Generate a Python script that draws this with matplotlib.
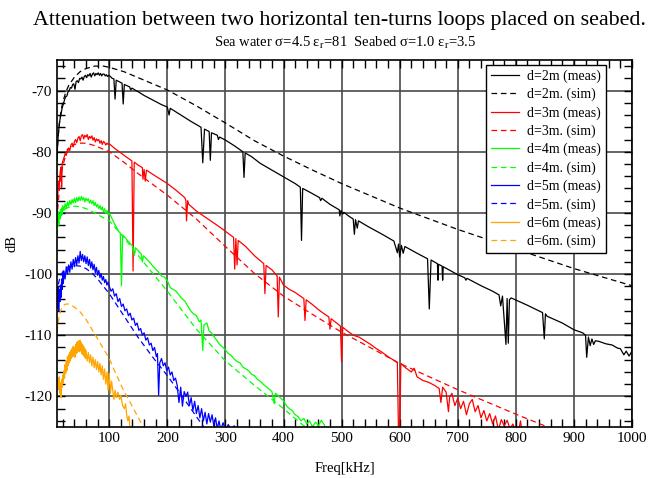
import numpy as np
import matplotlib
matplotlib.use('Agg')
import matplotlib.pyplot as plt
from matplotlib.ticker import MultipleLocator

# measured (meas) and simulated (sim) attenuation, values read off the chart
# d = 2m
f_2m_meas = [10, 11, 12, 13, 14, 15, 17, 19, 21, 23, 25, 27, 29, 31, 33, 35, 37, 39, 41, 43, 45, 47, 49,
             51, 53, 55, 57, 59, 61, 63, 65, 67, 69, 71, 73, 75, 77, 79, 81, 83, 85, 87, 89, 91, 93, 95, 97, 99,
             102, 105, 108, 110, 112, 118, 122, 124, 126, 135, 137, 139, 146, 150, 160, 170, 180, 190, 200, 203,
             205, 220, 240, 258, 261, 264, 272, 274, 276, 286, 288, 290, 300, 315, 330, 332, 334, 345, 360, 380,
             400, 420, 429, 431, 433, 445, 462, 464, 466, 480, 496, 497, 499, 502, 504, 512, 520, 522, 524, 527,
             529, 545, 570, 590, 596, 598, 600, 603, 606, 609, 630, 648, 651, 654, 665, 666, 667, 673, 674, 675,
             700, 712, 714, 716, 740, 760, 771, 774, 777, 783, 785, 787, 789, 792, 820, 846, 849, 851, 854, 880,
             900, 915, 920, 922, 925, 928, 931, 934, 937, 943, 955, 966, 975, 980, 986, 990, 995, 1000]
db_2m_meas = [-81.5, -79.0, -77.5, -76.5, -75.5, -74.8, -73.8, -72.8, -72.2, -71.5, -71.0, -70.9, -70.2, -70.0,
              -69.5, -69.6, -69.0, -68.9, -69.8, -68.5, -68.4, -68.7, -68.0, -68.1, -67.8, -68.3, -67.7, -67.5,
              -67.9, -67.4, -67.6, -67.2, -67.8, -67.3, -67.1, -67.6, -67.2, -67.4, -67.1, -67.5, -67.2, -67.6,
              -67.3, -67.3, -67.6, -67.4, -67.7, -67.5, -67.7, -68.0, -68.1, -71.4, -68.3, -68.6, -68.8, -72.2,
              -69.0, -69.4, -69.9, -69.6, -70.0, -70.2, -70.8, -71.3, -71.8, -72.3, -72.7, -74.0, -72.9, -73.8,
              -75.0, -76.0, -81.8, -76.3, -76.7, -81.4, -76.9, -77.3, -78.0, -77.6, -78.1, -79.0, -80.0, -84.2,
              -80.2, -80.8, -81.9, -83.0, -84.1, -85.2, -85.8, -94.5, -86.0, -86.6, -87.5, -88.0, -87.6, -88.6,
              -89.5, -90.5, -89.6, -90.2, -89.9, -90.5, -91.0, -93.5, -91.1, -92.5, -91.3, -92.2, -93.5, -94.6,
              -96.5, -95.1, -97.2, -95.3, -96.6, -95.5, -96.6, -97.5, -105.7, -97.7, -98.3, -101.0, -98.4, -98.7,
              -101.0, -98.8, -100.1, -100.6, -101.0, -100.7, -101.9, -102.8, -103.4, -105.2, -103.6, -111.5,
              -104.0, -111.3, -104.2, -103.9, -105.1, -106.3, -110.6, -106.5, -106.9, -108.0, -109.1, -109.6,
              -110.0, -113.6, -110.3, -111.7, -110.6, -111.5, -110.9, -111.0, -111.4, -111.6, -112.1, -112.2,
              -113.2, -112.6, -113.4, -112.6]
f_2m_sim = [10, 12, 14, 16, 18, 20, 25, 30, 40, 50, 60, 75, 90, 100, 125, 150, 200, 250, 300, 350, 400, 450,
            500, 600, 700, 800, 900, 1000]
db_2m_sim = [-80.5, -77.5, -75.5, -74.0, -72.8, -71.9, -70.3, -69.2, -67.8, -66.9, -66.4, -66.0, -66.0, -66.2,
             -66.9, -67.9, -69.9, -72.5, -75.3, -78.2, -80.7, -83.0, -85.2, -89.2, -92.7, -95.9, -99.1, -101.9]

# d = 3m
f_3m_meas = [10, 11, 12, 13, 14, 15, 16, 17, 18, 19, 20, 22, 24, 26, 28, 30, 32, 34, 36, 38, 40, 42, 44, 46,
             48, 50, 52, 54, 56, 58, 60, 62, 64, 66, 68, 70, 72, 74, 76, 78, 80, 82, 84, 86, 88, 90, 92, 94, 96,
             98, 100, 105, 110, 120, 130, 139, 141, 143, 150, 157, 158, 160, 162, 164, 175, 190, 200, 215, 230,
             232, 233, 235, 237, 250, 270, 290, 300, 314, 316, 318, 320, 322, 335, 350, 360, 366, 368, 370, 380,
             389, 391, 393, 400, 410, 420, 435, 437, 439, 450, 460, 470, 478, 480, 482, 490, 498, 500, 502, 510,
             520, 530, 540, 550, 560, 570, 580, 590, 596, 598, 600, 602, 610, 620, 625, 630, 640, 650, 660, 668,
             671, 674, 680, 684, 686, 690, 695, 700, 705, 710, 715, 720, 725, 730, 735, 740, 745, 750, 755, 760,
             765, 770, 775, 780, 785, 790, 795, 800, 805, 808, 811]
db_3m_meas = [-89.7, -87.5, -86.0, -84.8, -85.5, -83.8, -83.0, -82.5, -85.8, -82.0, -81.5, -81.0, -80.3, -80.6,
              -79.6, -79.4, -79.8, -78.9, -78.6, -79.2, -78.4, -78.0, -78.5, -77.8, -77.5, -78.2, -77.4, -77.2,
              -77.9, -77.3, -77.6, -77.2, -78.0, -77.5, -77.8, -77.4, -78.1, -77.7, -78.4, -77.9, -78.2, -78.0,
              -78.6, -78.2, -78.8, -78.3, -78.5, -78.9, -78.6, -78.8, -78.7, -79.1, -79.5, -80.2, -80.9, -81.5,
              -99.5, -81.7, -82.2, -82.6, -84.5, -82.9, -84.8, -83.0, -83.7, -84.6, -85.2, -86.3, -87.5, -88.0,
              -91.3, -88.0, -88.6, -89.7, -91.0, -92.3, -93.0, -94.0, -99.2, -94.2, -98.5, -94.5, -95.5, -97.0,
              -97.8, -98.3, -103.2, -98.6, -99.3, -100.3, -107.0, -100.5, -101.8, -102.5, -103.0, -104.0, -107.6,
              -104.2, -105.0, -105.8, -106.5, -107.0, -109.0, -107.3, -107.9, -108.5, -114.3, -108.7, -109.3,
              -110.0, -110.3, -110.9, -111.5, -112.2, -112.8, -113.5, -114.1, -114.5, -126.0, -126.0, -114.6,
              -115.3, -116.0, -115.4, -116.8, -117.4, -117.7, -118.2, -118.7, -121.0, -118.5, -119.3, -122.5,
              -120.1, -119.5, -121.5, -120.3, -122.0, -120.8, -123.0, -121.2, -120.5, -122.5, -121.5, -123.5,
              -122.3, -124.0, -122.8, -124.5, -123.2, -125.5, -123.8, -124.8, -123.9, -125.3, -124.5, -126.0,
              -125.5, -124.0, -126.0]
f_3m_sim = [10, 12, 14, 16, 18, 20, 25, 30, 40, 50, 60, 75, 90, 100, 125, 150, 200, 250, 300, 350, 400, 450,
            500, 600, 700, 800, 860]
db_3m_sim = [-91.0, -88.5, -86.3, -84.6, -83.3, -82.3, -80.6, -79.6, -78.8, -78.6, -78.6, -79.0, -79.6, -80.0,
             -81.7, -83.6, -87.1, -91.0, -95.5, -99.9, -103.6, -106.6, -109.5, -114.6, -118.9, -122.9, -125.2]

# d = 4m
f_4m_meas = [10, 11, 12, 13, 14, 15, 16, 17, 18, 19, 20, 22, 24, 26, 28, 30, 32, 34, 36, 38, 40, 42, 44, 46,
             48, 50, 52, 54, 56, 58, 60, 62, 64, 66, 68, 70, 72, 74, 76, 78, 80, 82, 84, 86, 88, 90, 92, 94, 96,
             98, 100, 104, 108, 112, 116, 119, 121, 123, 127, 132, 136, 140, 143, 145, 150, 155, 157, 159, 165,
             170, 175, 180, 185, 190, 195, 200, 205, 210, 215, 220, 225, 230, 235, 240, 245, 250, 255, 258, 261,
             263, 268, 272, 276, 280, 285, 290, 295, 300, 305, 310, 315, 320, 325, 330, 335, 340, 345, 350, 355,
             360, 365, 370, 375, 380, 384, 386, 390, 395, 400, 405, 410, 415, 420, 425, 430, 435, 440, 445, 450,
             455, 460, 465, 470, 474]
db_4m_meas = [-89.0, -91.5, -89.8, -92.0, -90.2, -91.0, -89.5, -90.5, -89.2, -90.3, -88.8, -89.6, -88.5, -89.2,
              -88.2, -88.9, -88.0, -88.6, -87.8, -88.4, -87.6, -88.3, -87.5, -88.1, -87.4, -88.0, -87.3, -87.9,
              -87.5, -88.2, -87.6, -88.0, -87.7, -88.4, -87.9, -88.5, -88.0, -88.8, -88.3, -89.0, -88.6, -89.3,
              -88.8, -89.5, -89.0, -89.8, -89.3, -90.1, -89.6, -90.3, -90.0, -90.8, -91.6, -92.3, -93.0, -93.3,
              -101.9, -93.6, -94.0, -94.6, -95.0, -95.4, -97.0, -95.7, -96.2, -96.7, -98.0, -97.0, -97.6, -98.1,
              -98.7, -99.2, -99.7, -100.3, -100.5, -101.1, -102.2, -102.5, -102.8, -103.4, -104.0, -104.4,
              -105.2, -106.0, -106.5, -106.8, -107.8, -107.5, -112.5, -108.3, -108.0, -109.3, -109.6, -110.2,
              -110.8, -111.5, -111.9, -112.4, -113.0, -113.3, -113.9, -114.3, -114.5, -115.2, -115.5, -115.8,
              -116.4, -116.6, -117.2, -117.5, -118.0, -118.4, -118.8, -119.2, -121.2, -119.5, -119.8, -120.3,
              -120.7, -121.5, -122.0, -122.3, -123.0, -123.3, -124.0, -123.6, -124.5, -124.0, -125.0, -124.2,
              -124.8, -123.9, -124.6, -125.5]
f_4m_sim = [10, 12, 14, 16, 20, 25, 30, 40, 50, 60, 75, 90, 100, 125, 150, 175, 200, 250, 300, 350, 400, 440]
db_4m_sim = [-93.8, -92.3, -91.2, -90.5, -89.8, -89.3, -89.1, -88.9, -89.0, -89.3, -90.0, -90.8, -91.3, -94.0,
             -97.0, -99.9, -102.8, -109.0, -114.2, -118.2, -122.0, -125.2]

# d = 5m
f_5m_meas = [10, 11, 12, 13, 14, 15, 16, 17, 18, 19, 20, 21, 22, 24, 26, 28, 30, 32, 34, 36, 38, 40, 42, 44,
             46, 48, 50, 52, 54, 56, 58, 60, 62, 64, 66, 68, 70, 72, 74, 76, 78, 80, 82, 84, 86, 88, 90, 92, 94,
             96, 98, 100, 103, 106, 109, 112, 115, 118, 121, 124, 127, 130, 133, 136, 139, 142, 145, 148, 151,
             154, 157, 160, 163, 166, 169, 172, 175, 178, 181, 183, 185, 187, 190, 193, 196, 199, 202, 205, 208,
             211, 214, 217, 220, 223, 226, 229, 232, 235, 238, 241, 244, 247, 250, 253, 256, 259, 262, 265, 268,
             271, 274, 277, 280, 283, 286, 289, 292, 296, 300, 305, 310, 315, 320]
db_5m_meas = [-103.5, -105.5, -102.0, -106.0, -102.5, -104.5, -101.8, -103.8, -100.8, -102.5, -99.8, -101.5,
              -99.5, -100.8, -98.8, -100.0, -98.5, -99.7, -98.0, -99.2, -97.6, -98.8, -97.3, -98.5, -97.0, -98.2,
              -96.3, -97.8, -96.8, -98.0, -97.0, -98.3, -97.2, -98.6, -97.6, -99.0, -98.0, -99.3, -98.4, -99.8,
              -98.9, -100.2, -99.4, -100.6, -99.9, -101.0, -100.4, -101.4, -100.9, -101.8, -101.3, -102.0, -102.8,
              -102.4, -103.6, -103.2, -104.5, -104.0, -105.3, -104.9, -106.0, -105.7, -106.8, -106.4, -107.5,
              -107.2, -108.4, -108.0, -109.2, -108.9, -110.0, -109.6, -110.8, -110.4, -111.6, -111.3, -112.5,
              -112.0, -113.5, -113.0, -119.8, -114.5, -113.8, -115.0, -114.5, -115.8, -115.2, -116.5, -116.0,
              -117.4, -117.0, -118.2, -121.0, -118.5, -121.6, -119.2, -120.0, -119.3, -121.5, -120.2, -122.3,
              -120.8, -122.8, -121.5, -123.5, -122.0, -124.0, -122.6, -124.5, -122.8, -124.2, -123.0, -124.8,
              -123.5, -125.3, -124.0, -125.5, -124.3, -125.5, -124.6, -125.5, -124.8, -125.5]
f_5m_sim = [10, 12, 15, 20, 25, 30, 40, 50, 60, 70, 80, 90, 100, 125, 150, 175, 200, 225, 250, 265]
db_5m_sim = [-103.2, -101.8, -100.6, -99.6, -99.1, -98.8, -98.6, -98.7, -99.1, -99.8, -100.8, -102.0, -103.2,
             -106.8, -110.4, -113.6, -116.6, -119.9, -123.3, -125.3]

# d = 6m
f_6m_meas = [10, 11, 12, 13, 14, 15, 16, 17, 18, 19, 20, 21, 22, 23, 24, 25, 26, 27, 28, 29, 30, 31, 32, 33,
             34, 35, 36, 37, 38, 39, 40, 41, 42, 43, 44, 45, 46, 47, 48, 49, 50, 51, 52, 53, 54, 55, 56, 57, 58,
             59, 60, 62, 64, 66, 68, 70, 72, 74, 76, 78, 80, 82, 84, 86, 88, 90, 92, 94, 96, 98, 100, 102, 104,
             106, 108, 110, 112, 115, 118, 120, 123, 126, 128, 130, 132, 134, 136]
db_6m_meas = [-117.5, -119.0, -117.0, -118.8, -116.8, -119.5, -117.8, -120.2, -117.2, -118.5, -116.5, -117.8,
              -115.8, -117.0, -114.8, -116.2, -114.2, -115.8, -113.5, -115.0, -113.2, -114.5, -112.8, -114.2,
              -112.5, -113.8, -112.2, -113.5, -111.8, -113.4, -112.0, -113.6, -111.5, -113.0, -111.2, -112.8,
              -111.0, -112.6, -110.9, -112.7, -110.8, -112.5, -111.2, -113.0, -111.5, -113.2, -111.8, -113.5,
              -112.2, -113.8, -112.5, -114.2, -112.8, -114.5, -113.2, -115.0, -113.6, -115.3, -114.0, -115.6,
              -114.3, -116.0, -114.6, -116.5, -115.0, -117.2, -115.5, -118.0, -116.0, -119.0, -116.2, -119.5,
              -117.5, -119.0, -120.5, -119.0, -120.2, -119.3, -120.5, -119.8, -121.5, -122.0, -121.2, -123.0,
              -124.0, -123.2, -125.5]
f_6m_sim = [10, 13, 16, 20, 25, 30, 40, 50, 60, 70, 80, 90, 100, 110, 123, 140, 157, 160]
db_6m_sim = [-109.5, -107.3, -106.0, -105.2, -104.9, -104.9, -105.4, -106.2, -107.4, -109.0, -110.6, -112.2,
             -113.8, -116.0, -118.7, -121.7, -124.7, -125.3]

plt.rcParams['font.family'] = ['Liberation Serif', 'DejaVu Serif']
plt.rcParams['mathtext.fontset'] = 'stix'
plt.rcParams['axes.unicode_minus'] = False

fig = plt.figure(figsize=(6.49, 4.78), dpi=100)
ax = fig.add_axes([0.0878, 0.1067, 0.8860, 0.7678])

# 측정 / 시뮬레이션
series = [
    ('2m', f_2m_meas, db_2m_meas, f_2m_sim, db_2m_sim, 'black'),
    ('3m', f_3m_meas, db_3m_meas, f_3m_sim, db_3m_sim, '#ff0000'),
    ('4m', f_4m_meas, db_4m_meas, f_4m_sim, db_4m_sim, '#00ff00'),
    ('5m', f_5m_meas, db_5m_meas, f_5m_sim, db_5m_sim, '#0000ff'),
    ('6m', f_6m_meas, db_6m_meas, f_6m_sim, db_6m_sim, '#ffa500'),
]
for name, fm, dm, fs, ds, c in series:
    ax.plot(fm, dm, color=c, lw=0.9, label='d=%s (meas)' % name)
    ax.plot(fs, ds, color=c, lw=0.9, linestyle=(0, (4.5, 3)), label='d=%s. (sim)' % name)

ax.set_xlim(10, 1000)
ax.set_ylim(-125, -65)
ax.xaxis.set_major_locator(MultipleLocator(100))
ax.xaxis.set_minor_locator(MultipleLocator(20))
ax.yaxis.set_major_locator(MultipleLocator(10))
ax.yaxis.set_minor_locator(MultipleLocator(2))
ax.tick_params(which='both', direction='in', top=True, right=True, length=6, width=1, labelsize=11)
ax.grid(True, which='major', color='#4a4a4a', lw=1.2)
ax.set_axisbelow(True)
for s in ax.spines.values():
    s.set_linewidth(1.2)

ax.set_xlabel('Freq[kHz]', fontsize=10.5, labelpad=12)
ax.set_ylabel('dB', fontsize=10.5, labelpad=4)

leg = ax.legend(loc='upper right', bbox_to_anchor=(0.955, 0.987), borderaxespad=0, fontsize=10,
                labelspacing=0.35, handlelength=2.0, handletextpad=0.6, borderpad=0.35, fancybox=False,
                framealpha=1)
leg.get_frame().set_edgecolor('black')
leg.get_frame().set_linewidth(1.0)

fig.text(0.523, 0.948, 'Attenuation between two horizontal ten-turns loops placed on seabed.',
         ha='center', va='baseline', fontsize=15.8)
fig.text(0.531, 0.902, r'Sea water σ=4.5 ε$_{\mathrm{r}}$=81  Seabed σ=1.0 ε$_{\mathrm{r}}$=3.5',
         ha='center', va='baseline', fontsize=10.5)

fig.savefig('out.png', dpi=100)
